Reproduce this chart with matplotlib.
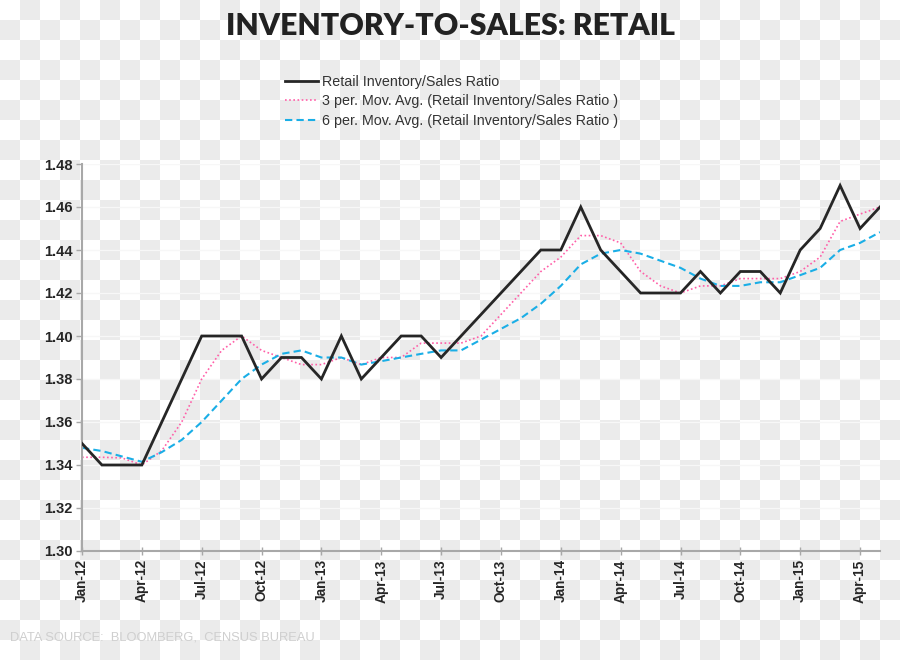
import numpy as np
import matplotlib
matplotlib.use("Agg")
import matplotlib.pyplot as plt
from matplotlib.lines import Line2D

months = ["Jan-12","Feb-12","Mar-12","Apr-12","May-12","Jun-12","Jul-12","Aug-12","Sep-12","Oct-12","Nov-12","Dec-12",
          "Jan-13","Feb-13","Mar-13","Apr-13","May-13","Jun-13","Jul-13","Aug-13","Sep-13","Oct-13","Nov-13","Dec-13",
          "Jan-14","Feb-14","Mar-14","Apr-14","May-14","Jun-14","Jul-14","Aug-14","Sep-14","Oct-14","Nov-14","Dec-14",
          "Jan-15","Feb-15","Mar-15","Apr-15","May-15"]

ratio = [1.35,1.34,1.34,1.34,1.36,1.38,1.40,1.40,1.40,1.38,1.39,1.39,
         1.38,1.40,1.38,1.39,1.40,1.40,1.39,1.40,1.41,1.42,1.43,1.44,
         1.44,1.46,1.44,1.43,1.42,1.42,1.42,1.43,1.42,1.43,1.43,1.42,
         1.44,1.45,1.47,1.45,1.46]

ma3 = [1.3436,1.3436,1.3433,1.340,1.3467,1.360,1.380,1.3933,1.400,1.3933,1.390,1.3867,
       1.3867,1.390,1.3867,1.390,1.390,1.3967,1.3967,1.3967,1.400,1.410,1.420,1.430,
       1.4367,1.4467,1.4467,1.4433,1.430,1.4233,1.420,1.4233,1.4233,1.4267,1.4267,1.4267,
       1.430,1.4367,1.4533,1.4567,1.460]

ma6 = [1.348,1.3465,1.344,1.3415,1.346,1.3517,1.360,1.370,1.380,1.3867,1.3917,1.3933,
       1.390,1.390,1.3867,1.3883,1.390,1.3917,1.3933,1.3933,1.3983,1.4033,1.4083,1.415,
       1.4233,1.4333,1.4383,1.440,1.4383,1.435,1.4317,1.4267,1.4233,1.4233,1.425,1.425,
       1.4283,1.4317,1.440,1.4433,1.4483]

y_ticks = [1.30,1.32,1.34,1.36,1.38,1.40,1.42,1.44,1.46,1.48]
x_tick_labels = ["Jan-12","Apr-12","Jul-12","Oct-12","Jan-13","Apr-13","Jul-13","Oct-13",
                 "Jan-14","Apr-14","Jul-14","Oct-14","Jan-15","Apr-15"]

legend_labels = ["Retail Inventory/Sales Ratio",
                 "3 per. Mov. Avg. (Retail Inventory/Sales Ratio )",
                 "6 per. Mov. Avg. (Retail Inventory/Sales Ratio )"]

title = "INVENTORY-TO-SALES: RETAIL"
footer = "DATA SOURCE:  BLOOMBERG,  CENSUS BUREAU"

W, H = 900, 660
fig = plt.figure(figsize=(W/100, H/100), dpi=100)
fig.patch.set_facecolor("white")

# transparency checkerboard background (as in the reference image)
yy, xx = np.mgrid[0:H, 0:W]
chk = ((xx // 20 + yy // 20) % 2).astype(float)
bg = np.where(chk[..., None] > 0, np.array([0.925, 0.925, 0.925]), np.array([1.0, 1.0, 1.0]))
fig.figimage(bg, xo=0, yo=0, origin="upper", zorder=-10)

ax = fig.add_axes([82/W, 1-551/H, (880-82)/W, (551-164)/H])
ax.set_facecolor("none")

x = np.arange(len(months))
ax.plot(x, ratio, color="#262626", lw=2.0, solid_joinstyle="miter", zorder=3)
ax.plot(x, ma3, color="#ff5fa8", lw=1.2, linestyle=(0, (1, 1.5)), zorder=2)
ax.plot(x, ma6, color="#1aaee6", lw=1.5, linestyle=(0, (3.5, 2)), zorder=2)

ax.set_xlim(0, len(months)-1)
ax.set_ylim(y_ticks[0], y_ticks[-1])
ax.set_yticks(y_ticks)
ax.set_yticklabels([f"{v:.2f}" for v in y_ticks])
tick_pos = [months.index(m) for m in x_tick_labels]
ax.set_xticks(tick_pos)
ax.set_xticklabels(x_tick_labels, rotation=90)

for yv in y_ticks[1:]:
    ax.axhline(yv, color="#f7f7f7", lw=0.9, zorder=1)

for s in ["top", "right"]:
    ax.spines[s].set_visible(False)
for s in ["left", "bottom"]:
    ax.spines[s].set_color("#a8a8a8")
    ax.spines[s].set_linewidth(1.5)

narrow = ["Liberation Sans Narrow", "Liberation Sans", "DejaVu Sans"]
ax.tick_params(axis="y", direction="out", length=4, width=1, color="#a8a8a8", pad=3)
ax.tick_params(axis="x", direction="inout", length=6, width=1, color="#a8a8a8", pad=3)
for lab in ax.get_yticklabels():
    lab.set_fontfamily(narrow)
    lab.set_fontweight("bold")
    lab.set_fontsize(10.5)
    lab.set_color("#262626")
for lab in ax.get_xticklabels():
    lab.set_fontfamily(["Liberation Sans", "DejaVu Sans"])
    lab.set_fontweight("bold")
    lab.set_fontsize(9.8)
    lab.set_color("#262626")

fig.text(451/W, 1-26/H, title, ha="center", va="center", fontsize=21.7,
         fontweight="heavy", family=["Lato", "DejaVu Sans"], color="#222222")

handles = [Line2D([], [], color="#262626", lw=2.0),
           Line2D([], [], color="#ff5fa8", lw=1.2, linestyle=(0, (1, 1.5))),
           Line2D([], [], color="#1aaee6", lw=1.5, linestyle=(0, (3.5, 2)))]
leg = fig.legend(handles, legend_labels, loc="upper left", bbox_to_anchor=(272/W, 1-62/H),
                 frameon=False, handlelength=2.3, handletextpad=0.3, labelspacing=0.38,
                 prop={"family": ["Liberation Sans", "DejaVu Sans"], "size": 10.3})
for t in leg.get_texts():
    t.set_color("#333333")

fig.text(10/W, 1-637/H, footer, ha="left", va="center", fontsize=9.3,
         family=narrow, color="#cfcfcf")

fig.savefig("out.png", dpi=100)
